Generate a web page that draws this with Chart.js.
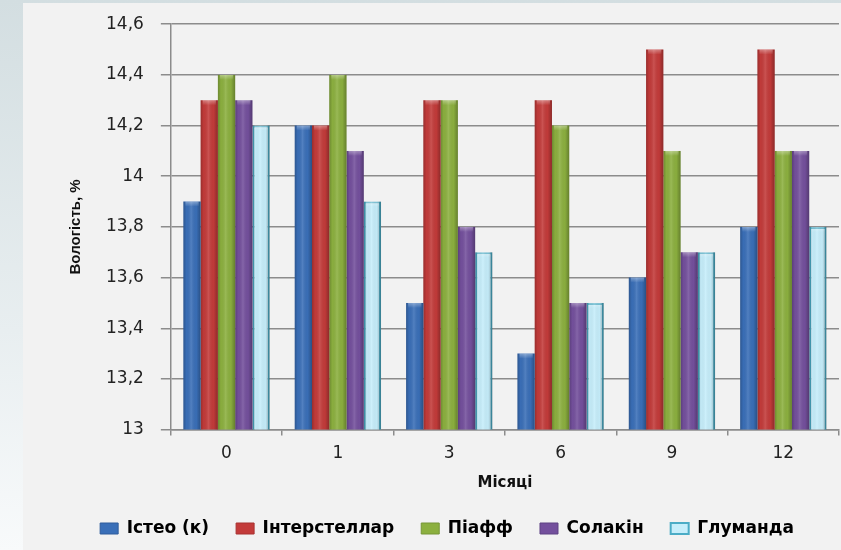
<!DOCTYPE html>
<html>
<head>
<meta charset="utf-8">
<script src="https://cdn.jsdelivr.net/npm/chart.js@4.4.1/dist/chart.umd.min.js"></script>
<style>
  html, body { margin: 0; padding: 0; background: #ffffff; }
  #wrap { width: 841px; height: 550px; position: relative; }
</style>
</head>
<body>
<div id="wrap"><canvas id="chart" width="841" height="550"></canvas></div>
<script>
// Months of storage
const months = ['0', '1', '3', '6', '9', '12'];

// Moisture content, % per variety
const isteo        = [13.9, 14.2, 13.5, 13.3, 13.6, 13.8];
const interstellar = [14.3, 14.2, 14.3, 14.3, 14.5, 14.5];
const piaff        = [14.4, 14.4, 14.3, 14.2, 14.1, 14.1];
const solakin      = [14.3, 14.1, 13.8, 13.5, 13.7, 14.1];
const glumanda     = [14.2, 13.9, 13.7, 13.5, 13.7, 13.8];

const seriesNames = ['Істео (к)', 'Інтерстеллар', 'Піафф', 'Солакін', 'Глуманда'];
const yTicks = [13, 13.2, 13.4, 13.6, 13.8, 14, 14.2, 14.4, 14.6];

const fills   = ['#3a6fb8', '#c33b3a', '#8cb03f', '#74509d', '#c6eefb'];
const borders = ['#2f5d9c', '#a83231', '#769636', '#5f4284', '#4bacc6'];

// Page frame: tinted strip on the left and top, light grey panel
const framePlugin = {
  id: 'frame',
  beforeDraw(chart) {
    const ctx = chart.ctx;
    const w = chart.width, h = chart.height;
    ctx.save();
    const g = ctx.createLinearGradient(0, 0, 0, h);
    g.addColorStop(0, '#d3dee1');
    g.addColorStop(0.6, '#e8eef0');
    g.addColorStop(1, '#f8fafb');
    ctx.fillStyle = g;
    ctx.fillRect(0, 0, w, h);
    ctx.fillStyle = '#f2f2f2';
    ctx.fillRect(23, 3, w - 23, h - 3);
    ctx.restore();
  }
};

// Rounded bevel shading over each bar, kept inside the plot area
const bevelPlugin = {
  id: 'bevel',
  afterDatasetDraw(chart, args) {
    const meta = args.meta;
    const ctx = chart.ctx;
    const area = chart.chartArea;
    ctx.save();
    ctx.beginPath();
    ctx.rect(area.left, area.top, area.right - area.left, area.bottom - area.top);
    ctx.clip();
    meta.data.forEach(bar => {
      const p = bar.getProps(['x', 'y', 'base', 'width'], true);
      const left = p.x - p.width / 2;
      const top = Math.min(p.y, p.base);
      const hgt = Math.abs(p.base - p.y);
      const g = ctx.createLinearGradient(left, 0, left + p.width, 0);
      g.addColorStop(0, 'rgba(0,0,0,0.22)');
      g.addColorStop(0.18, 'rgba(0,0,0,0.02)');
      g.addColorStop(0.45, 'rgba(255,255,255,0.12)');
      g.addColorStop(0.75, 'rgba(0,0,0,0.02)');
      g.addColorStop(1, 'rgba(0,0,0,0.28)');
      ctx.fillStyle = g;
      ctx.fillRect(left, top, p.width, hgt);
      // soft highlight cap at the top
      const cap = ctx.createLinearGradient(0, top, 0, top + 5);
      cap.addColorStop(0, 'rgba(255,255,255,0.35)');
      cap.addColorStop(1, 'rgba(255,255,255,0)');
      ctx.fillStyle = cap;
      ctx.fillRect(left + 2, top, p.width - 4, 5);
    });
    ctx.restore();
  }
};

const data = {
  labels: months,
  datasets: [isteo, interstellar, piaff, solakin, glumanda].map((vals, i) => ({
    label: seriesNames[i],
    data: vals,
    backgroundColor: fills[i],
    borderColor: borders[i],
    borderWidth: i === 4 ? 2 : 0,
    borderSkipped: 'bottom'
  }))
};

new Chart(document.getElementById('chart'), {
  type: 'bar',
  data,
  options: {
    responsive: false,
    animation: false,
    devicePixelRatio: 1,
    datasets: { bar: { categoryPercentage: 0.775, barPercentage: 1 } },
    layout: { padding: { left: 55, right: 2, top: 19, bottom: 3 } },
    scales: {
      x: {
        grid: { display: true, drawOnChartArea: false, drawTicks: true, tickLength: 6, color: '#8c8c8c', lineWidth: 1.5, offset: true },
        border: { display: true, color: '#8c8c8c', width: 1.5 },
        ticks: { color: '#222', font: { family: 'DejaVu Sans', size: 17 }, padding: 8 },
        title: { display: true, text: 'Місяці', color: '#111', font: { family: 'DejaVu Sans', size: 15, weight: 'bold' }, padding: { top: 2, bottom: 1 } }
      },
      y: {
        min: 13,
        max: 14.6,
        afterBuildTicks(axis) { axis.ticks = yTicks.map(v => ({ value: v })); },
        grid: { color: '#8c8c8c', lineWidth: 1.5, tickLength: 10, drawTicks: true },
        border: { display: true, color: '#8c8c8c', width: 1.5 },
        ticks: {
          color: '#222',
          font: { family: 'DejaVu Sans', size: 17, lineHeight: 0.85 },
          padding: 17,
          callback: v => String(Math.round(v * 10) / 10).replace('.', ',')
        },
        title: { display: true, text: 'Вологість, %', color: '#111', font: { family: "'Liberation Sans', Arial, sans-serif", size: 15, weight: 'bold' }, padding: { top: 12, bottom: 4 } }
      }
    },
    plugins: {
      legend: {
        position: 'bottom',
        labels: {
          color: '#111',
          font: { family: 'DejaVu Sans', size: 17, weight: 'bold' },
          boxWidth: 18,
          boxHeight: 11,
          padding: 27,
          generateLabels(chart) {
            return chart.data.datasets.map((ds, i) => ({
              text: ds.label,
              fillStyle: fills[i],
              strokeStyle: borders[i],
              lineWidth: i === 4 ? 2 : 1,
              datasetIndex: i,
              hidden: false
            }));
          }
        }
      },
      tooltip: { enabled: false }
    }
  },
  plugins: [framePlugin, bevelPlugin]
});
</script>
</body>
</html>
